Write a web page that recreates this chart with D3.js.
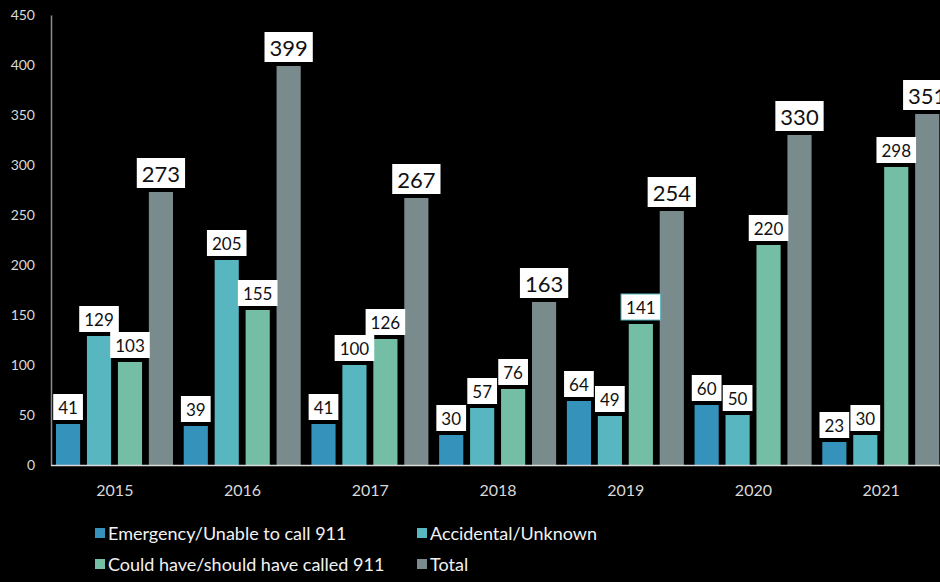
<!DOCTYPE html>
<html><head><meta charset="utf-8">
<script src="https://cdn.jsdelivr.net/npm/d3@7/dist/d3.min.js"></script>
<style>
html,body{margin:0;padding:0;background:#000;}
svg{display:block;}
text{font-family:"Lato","Noto Sans",sans-serif;}
</style></head>
<body>
<svg id="c" width="940" height="582"></svg>
<script>
const years = ["2015","2016","2017","2018","2019","2020","2021"];
const seriesNames = ["Emergency/Unable to call 911","Accidental/Unknown","Could have/should have called 911","Total"];
const emergency = [41,39,41,30,64,60,23];
const accidental = [129,205,100,57,49,50,30];
const couldHave = [103,155,126,76,141,220,298];
const total = [273,399,267,163,254,330,351];
const yTicks = [0,50,100,150,200,250,300,350,400,450];
const colors = ["#3592ba","#58b6c0","#74bea6","#7a8b8d"];

const series = [emergency, accidental, couldHave, total];
const svg = d3.select("#c");
const x0 = d3.scaleBand().domain(years).range([51, 945]).paddingInner(0).paddingOuter(0);
const x1 = d3.scaleBand().domain(d3.range(4)).range([5, 122]).paddingInner(0.22).paddingOuter(0);
const y = d3.scaleLinear().domain([0, 450]).range([465, 15]);

// axes
const yAxis = svg.append("g").attr("transform","translate(51,0)")
  .call(d3.axisLeft(y).tickValues(yTicks).tickSize(0).tickPadding(16));
yAxis.select(".domain").attr("stroke","#8c8c8c").attr("stroke-width",1.5);
yAxis.selectAll("text").attr("fill","#d9d9d9").style("font-size","14px").style("font-family","Lato, 'Noto Sans', sans-serif");

const xAxis = svg.append("g").attr("transform","translate(0,465)")
  .call(d3.axisBottom(x0).tickSize(0).tickPadding(20));
xAxis.select(".domain").remove();
xAxis.selectAll("text").attr("fill","#d9d9d9").style("font-size","16px").style("font-family","Lato, 'Noto Sans', sans-serif");

// bars
const groups = svg.append("g").selectAll("g").data(years).join("g")
  .attr("transform", d => `translate(${x0(d)},0)`);
groups.selectAll("rect").data((d,i) => series.map((s,k) => ({k, v: s[i]}))).join("rect")
  .attr("x", d => x1(d.k)).attr("width", x1.bandwidth())
  .attr("y", d => y(d.v)).attr("height", d => y(0) - y(d.v))
  .attr("fill", d => colors[d.k]);

// baseline
svg.append("line").attr("x1",51).attr("x2",940).attr("y1",465.5).attr("y2",465.5)
  .attr("stroke","#d9d9d9").attr("stroke-width",1.5);

// labels
const lab = svg.append("g");
years.forEach((yr, i) => {
  series.forEach((s, k) => {
    const v = s[i];
    const big = k === 3;
    const fs = big ? 22 : 17;
    const h = big ? 30 : 26;
    const cx = x0(yr) + x1(k) + x1.bandwidth()/2;
    const g = lab.append("g");
    const t = g.append("text").attr("x", cx).attr("y", y(v) - 4 - h/2)
      .attr("text-anchor","middle").attr("dominant-baseline","central")
      .attr("fill","#111").style("font-size", fs+"px").text(v);
    const w = t.node().getComputedTextLength() + 10;
    g.insert("rect","text").attr("x", cx - w/2).attr("y", y(v) - 4 - h)
      .attr("width", w).attr("height", h).attr("fill","#fff")
      .attr("stroke", (yr === "2019" && k === 2) ? colors[1] : "none").attr("stroke-width",1);
  });
});

// legend
const legendPos = [[95,533],[417,533],[95,564],[417,564]];
const leg = svg.append("g").selectAll("g").data(seriesNames).join("g")
  .attr("transform",(d,i)=>`translate(${legendPos[i][0]},${legendPos[i][1]})`);
leg.append("rect").attr("x",0).attr("y",-5).attr("width",10).attr("height",10).attr("fill",(d,i)=>colors[i]);
leg.append("text").attr("x",13).attr("y",0).attr("dominant-baseline","central")
  .attr("fill","#f2f2f2").style("font-size","18px").text(d=>d);
</script>
</body></html>
